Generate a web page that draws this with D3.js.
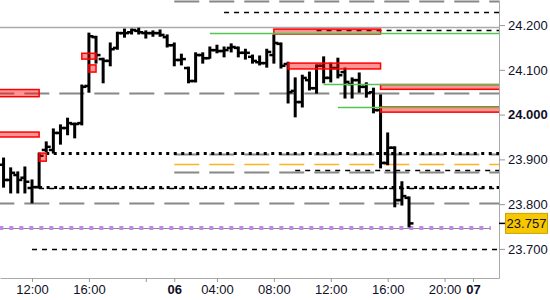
<!DOCTYPE html>
<html>
<head>
<meta charset="utf-8">
<script src="https://cdn.jsdelivr.net/npm/d3@7"></script>
<style>
  body { margin: 0; background: #fff; }
  svg { display: block; }
</style>
</head>
<body>
<svg id="chart" width="550" height="300"></svg>
<script>
// plot area (price axis sits on the right)
const plotW = 499;
const plotH = 278;

// 30 minute OHLC bars, first bar index (0 = 12:00 on day 5)
const firstBar = -4;
const opens = [23.888, 23.854, 23.865, 23.859, 23.836, 23.838, 23.921, 23.921, 23.959, 23.970,
  23.979, 23.981, 24.064, 24.173, 24.124, 24.120, 24.149, 24.182, 24.184, 24.187,
  24.182, 24.182, 24.182, 24.173, 24.155, 24.122, 24.104, 24.075, 24.133, 24.126,
  24.144, 24.142, 24.149, 24.149, 24.138, 24.129, 24.117, 24.115, 24.133, 24.158,
  24.113, 24.053, 24.028, 24.077, 24.059, 24.109, 24.082, 24.104, 24.095, 24.068,
  24.077, 24.062, 24.050, 24.010, 23.892, 23.926, 23.809, 23.814];
const highs = [23.903, 23.881, 23.872, 23.883, 23.854, 23.914, 23.939, 23.968, 23.977, 23.992,
  23.981, 24.066, 24.182, 24.175, 24.126, 24.160, 24.184, 24.191, 24.191, 24.193,
  24.187, 24.187, 24.189, 24.178, 24.160, 24.135, 24.106, 24.138, 24.138, 24.151,
  24.155, 24.151, 24.158, 24.151, 24.146, 24.133, 24.131, 24.146, 24.178, 24.160,
  24.117, 24.082, 24.088, 24.095, 24.111, 24.129, 24.115, 24.126, 24.104, 24.082,
  24.093, 24.071, 24.059, 24.044, 23.959, 23.928, 23.850, 23.816];
const lows = [23.838, 23.825, 23.825, 23.825, 23.803, 23.836, 23.917, 23.914, 23.934, 23.955,
  23.948, 23.977, 24.050, 24.115, 24.071, 24.109, 24.146, 24.173, 24.180, 24.180,
  24.171, 24.175, 24.175, 24.151, 24.109, 24.111, 24.071, 24.073, 24.115, 24.126,
  24.138, 24.129, 24.140, 24.129, 24.124, 24.115, 24.111, 24.106, 24.115, 24.104,
  24.026, 23.995, 24.017, 24.055, 24.048, 24.071, 24.073, 24.082, 24.037, 24.037,
  24.050, 24.039, 24.004, 23.881, 23.888, 23.794, 23.798, 23.749];
const closes = [23.854, 23.870, 23.854, 23.850, 23.838, 23.908, 23.928, 23.959, 23.970, 23.981,
  23.979, 24.062, 24.175, 24.133, 24.120, 24.146, 24.182, 24.182, 24.189, 24.184,
  24.182, 24.182, 24.178, 24.155, 24.122, 24.124, 24.075, 24.133, 24.126, 24.144,
  24.142, 24.144, 24.151, 24.138, 24.138, 24.120, 24.115, 24.140, 24.160, 24.109,
  24.050, 24.028, 24.082, 24.059, 24.109, 24.082, 24.104, 24.088, 24.073, 24.077,
  24.062, 24.048, 24.010, 23.892, 23.926, 23.809, 23.818, 23.757];

// time axis ticks (bar index) and labels
const timeTicks = [0, 8, 16, 20, 26, 34, 42, 50, 58, 62];
const timeLabels = ["12:00", "16:00", "", "06", "04:00", "08:00", "12:00", "16:00", "20:00", "07"];
const dayLabels = ["06", "07"];

// price axis ticks
const priceTicks = [23.7, 23.8, 23.9, 24.0, 24.1, 24.2];

// horizontal levels: price + bar index where the level starts
const grayLineLevels = [24.1955];
const grayLineStarts = [-6];
const grayDashLevels = [24.2535, 24.048, 23.912, 23.872, 23.802];
const grayDashStarts = [20, -6, 20, 20, -6];
const orangeLevels = [23.890];
const orangeStarts = [20];
const blackDashLevels = [24.229, 24.189, 23.876, 23.835, 23.700];
const blackDashStarts = [27, 40, 37, 1, 0];
const dottedLevels = [23.914, 23.839];
const dottedStarts = [2, 1];
const greenLevels = [24.182, 24.0675, 24.0175];
const greenStarts = [25, 41, 43];
const purpleLevel = 23.7465;
const purpleRange = [-6, 64.5];

// supply zones: top, bottom, first bar, last bar
const zoneTops = [24.056, 23.961, 23.914, 24.137, 24.111, 24.191, 24.115, 24.067, 24.017];
const zoneBottoms = [24.040, 23.950, 23.896, 24.124, 24.095, 24.180, 24.102, 24.0565, 24.0055];
const zoneStarts = [-8, -8, 1, 7, 8, 34, 36, 49, 49];
const zoneEnds = [1, 1, 2, 9, 9, 49, 49, 70, 70];

const svg = d3.select("#chart");
const font = "'Liberation Sans', Arial, sans-serif";

// scales
const x = d3.scaleLinear().domain([-4.5, 65.65]).range([0, plotW]);
const y = d3.scaleLinear().domain([23.635, 24.256]).range([plotH, 0]);

svg.append("defs").append("clipPath").attr("id", "plotClip")
  .append("rect").attr("width", plotW).attr("height", plotH);

const plot = svg.append("g").attr("clip-path", "url(#plotClip)");

// helper for one family of horizontal levels
function drawLevels(levels, starts, style, end = 70) {
  plot.append("g").selectAll("line")
    .data(levels)
    .join("line")
    .attr("x1", (d, k) => x(starts[k]))
    .attr("x2", x(end))
    .attr("y1", d => Math.round(y(d)) + 0.5)
    .attr("y2", d => Math.round(y(d)) + 0.5)
    .attr("fill", "none")
    .attr("stroke", style.color)
    .attr("stroke-width", style.width)
    .attr("stroke-dasharray", style.dash || null)
    .attr("stroke-dashoffset", style.offset || 0);
}

drawLevels(grayLineLevels, grayLineStarts, { color: "#aaa", width: 1.5 });
drawLevels(grayDashLevels, grayDashStarts, { color: "#888", width: 2, dash: "25,10", offset: 0 });
drawLevels(orangeLevels, orangeStarts, { color: "#fbb520", width: 1.5, dash: "25,10" });
drawLevels(blackDashLevels, blackDashStarts, { color: "#000", width: 1.3, dash: "5,5" });
drawLevels(dottedLevels, dottedStarts, { color: "#000", width: 3, dash: "3,4.5" });

// purple level: thin gray line with square dots on it
const py = Math.round(y(purpleLevel));
plot.append("line")
  .attr("x1", x(purpleRange[0])).attr("x2", x(purpleRange[1]))
  .attr("y1", py + 0.5).attr("y2", py + 0.5)
  .attr("stroke", "#888").attr("stroke-width", 1);
plot.append("line")
  .attr("x1", x(purpleRange[0])).attr("x2", x(purpleRange[1]))
  .attr("y1", py).attr("y2", py)
  .attr("stroke", "#bf89e6").attr("stroke-width", 4)
  .attr("stroke-dasharray", "4,6");

// OHLC bars
const bars = opens.map((o, k) => ({ i: firstBar + k, o, h: highs[k], l: lows[k], c: closes[k] }));
const barG = plot.append("g").attr("stroke", "#000");
barG.selectAll("line.hl")
  .data(bars)
  .join("line")
  .attr("class", "hl")
  .attr("x1", d => x(d.i)).attr("x2", d => x(d.i))
  .attr("y1", d => y(d.h) - 0.5).attr("y2", d => y(d.l) + 0.5)
  .attr("stroke-width", 3);
barG.selectAll("line.open")
  .data(bars)
  .join("line")
  .attr("class", "open")
  .attr("x1", d => x(d.i) - 4.5).attr("x2", d => x(d.i))
  .attr("y1", d => y(d.o)).attr("y2", d => y(d.o))
  .attr("stroke-width", 2.5);
barG.selectAll("line.close")
  .data(bars)
  .join("line")
  .attr("class", "close")
  .attr("x1", d => x(d.i)).attr("x2", d => x(d.i) + 4.5)
  .attr("y1", d => y(d.c)).attr("y2", d => y(d.c))
  .attr("stroke-width", 2.5);

// zones drawn semi transparent over the bars
plot.append("g").selectAll("rect")
  .data(zoneTops)
  .join("rect")
  .attr("x", (d, k) => x(zoneStarts[k]))
  .attr("y", d => y(d))
  .attr("width", (d, k) => x(zoneEnds[k]) - x(zoneStarts[k]))
  .attr("height", (d, k) => y(zoneBottoms[k]) - y(d))
  .attr("fill", "rgba(255,0,0,0.42)")
  .attr("stroke", "#f00")
  .attr("stroke-width", 1.5);

drawLevels(greenLevels, greenStarts, { color: "#52c552", width: 1.3 });

// price axis on the right
const yAxis = svg.append("g")
  .attr("transform", `translate(${plotW},0)`)
  .call(d3.axisRight(y).tickValues(priceTicks).tickFormat(d3.format(".3f"))
    .tickSize(6).tickSizeOuter(0).tickPadding(3));
yAxis.select(".domain").attr("stroke", "#aaa");
yAxis.selectAll(".tick line").attr("stroke", "#999");
yAxis.selectAll(".tick text")
  .attr("fill", "#101028")
  .style("font-family", font)
  .style("font-size", "13px")
  .style("font-weight", d => d === 24.0 ? "bold" : "normal");

// time axis at the bottom
const xAxis = svg.append("g")
  .attr("transform", `translate(0,${plotH})`)
  .call(d3.axisBottom(x).tickValues(timeTicks).tickFormat((d, k) => timeLabels[k])
    .tickSize(4).tickSizeOuter(0).tickPadding(3));
xAxis.select(".domain").attr("stroke", "#aaa");
xAxis.selectAll(".tick line").attr("stroke", "#999");
xAxis.selectAll(".tick text")
  .attr("fill", "#101028")
  .style("font-family", font)
  .style("font-size", "13px")
  .style("font-weight", (d, k) => dayLabels.includes(timeLabels[k]) ? "bold" : "normal");

// last price tag
const last = closes[closes.length - 1];
const tag = svg.append("g").attr("transform", `translate(${plotW},${y(last)})`);
tag.append("line").attr("x1", 0).attr("x2", 6).attr("stroke", "#000").attr("stroke-width", 1.5);
tag.append("rect")
  .attr("x", 6.5).attr("y", -10)
  .attr("width", 42).attr("height", 20)
  .attr("fill", "#f7c700")
  .attr("stroke", "#c9a300");
tag.append("text")
  .attr("x", 27.5).attr("dy", "0.35em")
  .attr("text-anchor", "middle")
  .attr("fill", "#101028")
  .style("font-family", font)
  .style("font-size", "13px")
  .text(d3.format(".3f")(last));
</script>
</body>
</html>
